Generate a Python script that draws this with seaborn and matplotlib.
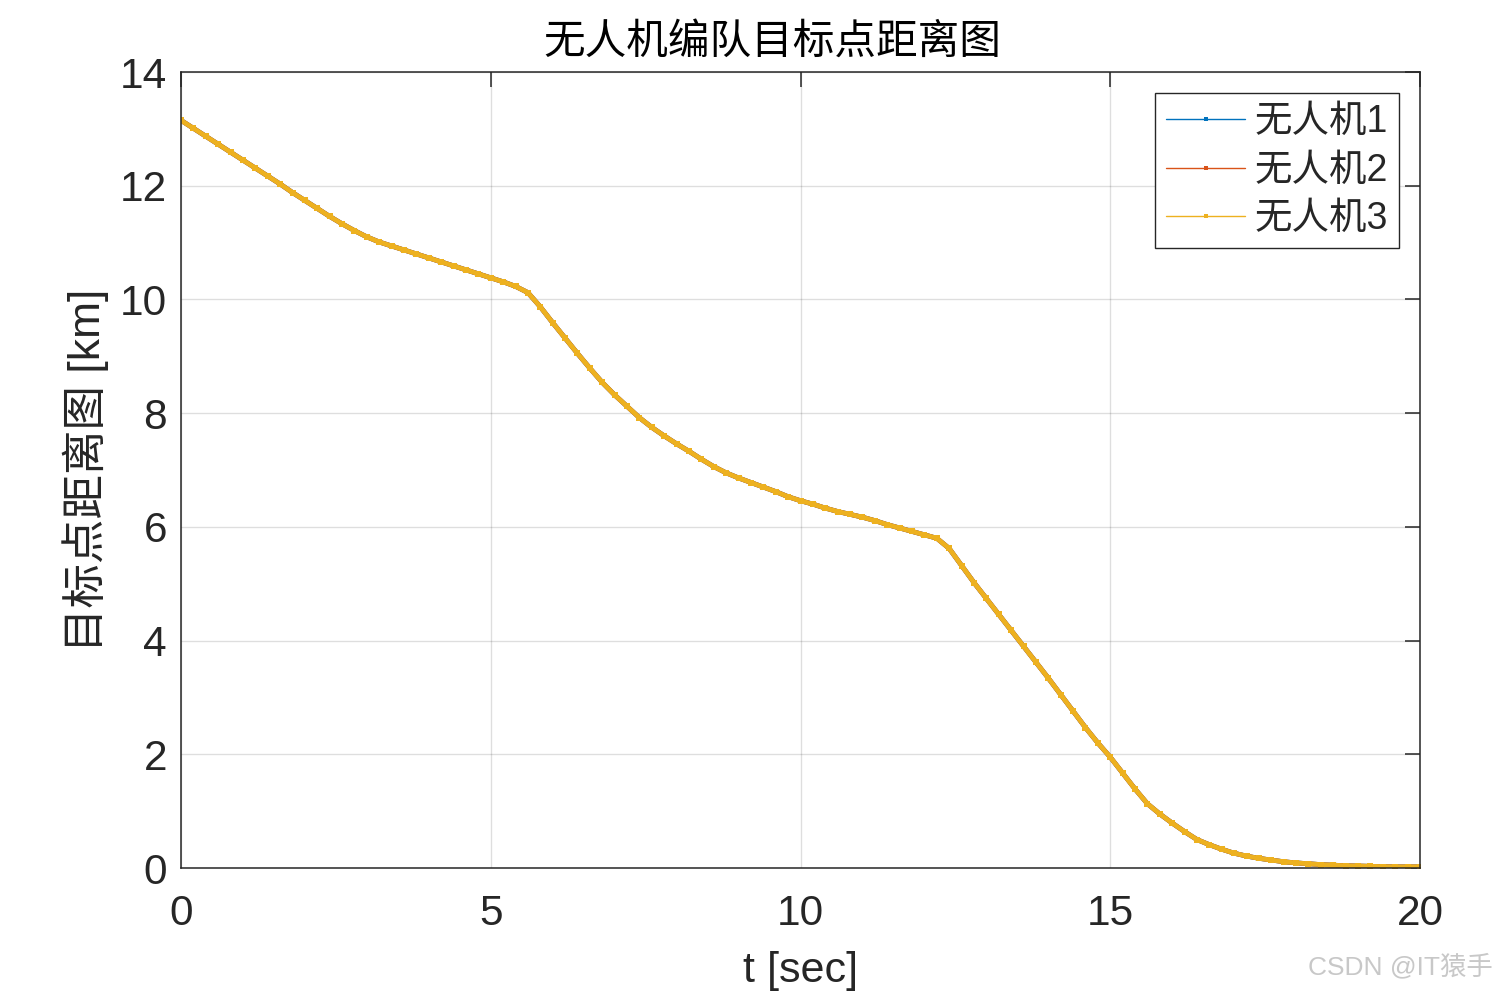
import numpy as np
import pandas as pd
import matplotlib
matplotlib.use("Agg")
import matplotlib.pyplot as plt
from matplotlib.lines import Line2D
import seaborn as sns

# ---------------- data ----------------
t_sec = [round(0.2 * i, 1) for i in range(101)]

dist_uav3 = [
    13.15, 13.01, 12.87, 12.73, 12.59, 12.45, 12.31, 12.17, 12.03, 11.88,  # 0.0-1.8
    11.74, 11.60, 11.46, 11.33, 11.21, 11.10, 11.01, 10.94, 10.87, 10.80,  # 2.0-3.8
    10.73, 10.66, 10.59, 10.52, 10.45, 10.38, 10.31, 10.23, 10.12, 9.87,   # 4.0-5.8
    9.59, 9.32, 9.05, 8.79, 8.54, 8.32, 8.12, 7.92, 7.75, 7.60,            # 6.0-7.8
    7.46, 7.33, 7.19, 7.06, 6.95, 6.86, 6.78, 6.70, 6.62, 6.53,            # 8.0-9.8
    6.46, 6.40, 6.33, 6.27, 6.22, 6.17, 6.11, 6.04, 5.98, 5.92,            # 10.0-11.8
    5.86, 5.80, 5.62, 5.32, 5.02, 4.74, 4.46, 4.18, 3.90, 3.62,            # 12.0-13.8
    3.34, 3.05, 2.76, 2.47, 2.20, 1.95, 1.67, 1.39, 1.13, 0.95,            # 14.0-15.8
    0.79, 0.64, 0.50, 0.41, 0.33, 0.26, 0.21, 0.17, 0.14, 0.11,            # 16.0-17.8
    0.09, 0.075, 0.06, 0.05, 0.04, 0.035, 0.03, 0.025, 0.02, 0.02,         # 18.0-19.8
    0.02,                                                                  # 20.0
]
dist_uav1 = list(dist_uav3)
dist_uav2 = list(dist_uav3)

series_names = ["无人机1", "无人机2", "无人机3"]
series_values = [dist_uav1, dist_uav2, dist_uav3]

x_ticks = [0, 5, 10, 15, 20]
y_ticks = [0, 2, 4, 6, 8, 10, 12, 14]

title_text = "无人机编队目标点距离图"
x_label = "t [sec]"
y_label = "目标点距离图 [km]"
watermark = "CSDN @IT猿手"

# ---------------- style ----------------
colors = ["#0072BD", "#D95319", "#EDB120"]
sns.set_theme(style="white")
plt.rcParams["font.family"] = ["Liberation Sans", "Noto Sans CJK SC", "DejaVu Sans"]
plt.rcParams["axes.unicode_minus"] = False

fig = plt.figure(figsize=(14.99, 9.92), dpi=100)
ax = fig.add_axes([181 / 1499, 1 - 868 / 992, (1420 - 181) / 1499, (868 - 72) / 992])

frames = []
for name, vals in zip(series_names, series_values):
    frames.append(pd.DataFrame({"t": t_sec, "d": vals, "uav": name}))
df = pd.concat(frames, ignore_index=True)

for name, col in zip(series_names, colors):
    sub = df[df["uav"] == name]
    sns.lineplot(data=sub, x="t", y="d", ax=ax, color=col, linewidth=3.4,
                 marker="s", markersize=4.5, markeredgewidth=0,
                 legend=False, estimator=None, sort=False)

ax.set_xlim(0, 20)
ax.set_ylim(0, 14)
ax.set_xticks(x_ticks)
ax.set_yticks(y_ticks)
ax.set_xticklabels([str(v) for v in x_ticks])
ax.set_yticklabels([str(v) for v in y_ticks])

ax.grid(True, color="#000000", alpha=0.13, linewidth=1.0)
ax.set_axisbelow(True)
for sp in ax.spines.values():
    sp.set_visible(True)
    sp.set_color("#262626")
    sp.set_linewidth(1.1)

ax.tick_params(axis="both", which="major", direction="in", length=11, width=1.1,
               colors="#262626", labelsize=30.5, top=True, right=True,
               labelcolor="#262626")
ax.tick_params(axis="x", pad=19)
ax.tick_params(axis="y", pad=10)

ax.set_xlabel(x_label, fontsize=31, color="#262626", labelpad=12)
ax.set_ylabel(y_label, fontsize=32, color="#262626", labelpad=8)
ax.set_title(title_text, fontsize=30, color="#000000", pad=13, x=0.477)

handles = [Line2D([0], [0], color=c, linewidth=1.0, marker="s", markersize=3.5,
                  markeredgewidth=0) for c in colors]
leg = ax.legend(handles, series_names, loc="upper right", fontsize=27,
                frameon=True, fancybox=False, framealpha=1, edgecolor="#262626",
                handlelength=2.1, handletextpad=0.25, borderpad=0.3,
                labelspacing=0.33, borderaxespad=0.0,
                bbox_to_anchor=(1399 / 1499, 1 - 93 / 992),
                bbox_transform=fig.transFigure, markerfirst=True)
leg.get_frame().set_linewidth(1.0)

fig.text(1493 / 1499, 1 - 966 / 992, watermark, ha="right", va="center",
         fontsize=19, color="#c8c8c8")

fig.savefig("out.png", dpi=100)
